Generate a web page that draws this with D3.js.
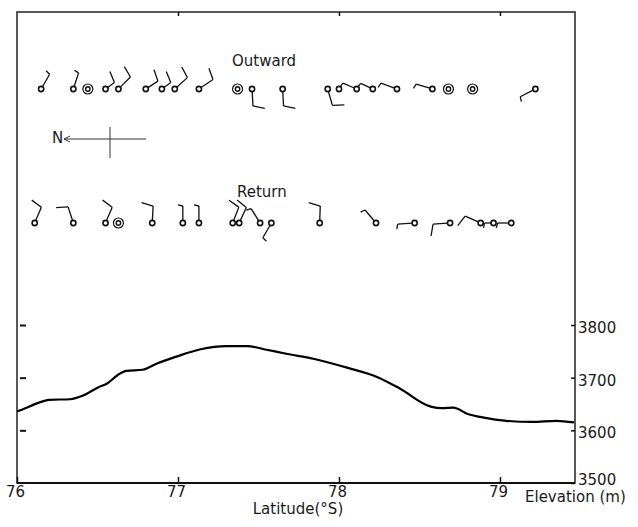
<!DOCTYPE html>
<html>
<head>
<meta charset="utf-8">
<script src="https://cdn.jsdelivr.net/npm/d3@7"></script>
<style>
body { margin: 0; background: #fff; }
svg text { font-family: "DejaVu Sans", sans-serif; font-size: 15px; fill: #1a1a1a; }
</style>
</head>
<body>
<div id="chart"></div>
<script>
// Elevation profile along the traverse (latitude S, metres)
var elevLat = [76.0, 76.02, 76.14, 76.2, 76.33, 76.41, 76.5, 76.56, 76.63, 76.68, 76.78, 76.87, 76.99,
    77.14, 77.3, 77.43, 77.55, 77.68, 77.84, 78.05, 78.24, 78.38, 78.57, 78.64, 78.71, 78.8, 78.9,
    79.04, 79.2, 79.35, 79.46]
var elevM = [3636, 3638, 3653, 3658, 3659, 3666, 3681, 3689, 3706, 3713, 3715, 3727, 3740,
    3754, 3760, 3760, 3753, 3745, 3736, 3719, 3701, 3679, 3645, 3642, 3643, 3631, 3624,
    3618, 3616, 3618, 3615]

// Wind obs on the outward leg: latitude, direction (deg, N = left of page), speed (kt)
// direction null = calm
var outLat = [76.15, 76.35, 76.44, 76.55, 76.63, 76.80, 76.90, 76.98, 77.13, 77.37, 77.46, 77.65,
    77.93, 78.0, 78.11, 78.21, 78.36, 78.58, 78.68, 78.83, 79.22]
var outDir = [120, 108, null, 144, 135, 147, 144, 138, 146, null, 267, 267,
    254, 0, 23, 25, 20, 17, null, null, 333]
var outSpeed = [5, 5, 0, 10, 10, 10, 10, 10, 10, 0, 10, 10,
    10, 0, 5, 5, 5, 5, 0, 0, 5]

// Wind obs on the return leg
var retLat = [76.11, 76.35, 76.55, 76.63, 76.84, 77.03, 77.13, 77.34, 77.38, 77.51, 77.58, 77.88,
    78.23, 78.47, 78.69, 78.88, 78.96, 79.07]
var retDir = [113, 72, 113, null, 93, 90, 90, 111, 115, 58, 300, 92,
    50, 356, 356, 24, 0, 0]
var retSpeed = [10, 10, 10, 0, 10, 5, 5, 10, 10, 5, 5, 10,
    5, 5, 10, 10, 5, 5]

var latTicks = [76, 77, 78, 79]
var elevTicks = [3500, 3600, 3700, 3800]

var width = 638, height = 527
var frame = { left: 17, right: 575, top: 12, bottom: 483 }

var svg = d3.select("#chart").append("svg")
    .attr("width", width)
    .attr("height", height)

var x = d3.scaleLinear().domain([76, 79.466]).range([frame.left, frame.right])
var y = d3.scaleLinear().domain([3500, 3800]).range([frame.bottom, 325])

//Frame
svg.append("rect")
    .attr("x", frame.left).attr("y", frame.top)
    .attr("width", frame.right - frame.left)
    .attr("height", frame.bottom - frame.top)
    .attr("fill", "none").attr("stroke", "#222").attr("stroke-width", 1.5)
svg.append("line")
    .attr("x1", frame.left).attr("x2", frame.right)
    .attr("y1", frame.bottom).attr("y2", frame.bottom)
    .attr("stroke", "#111").attr("stroke-width", 2.2)

//Bottom axis (latitude)
var xAxis = svg.append("g")
    .attr("transform", "translate(0," + frame.bottom + ")")
    .call(d3.axisBottom(x).tickValues(latTicks).tickFormat(d3.format("d"))
        .tickSizeInner(-6).tickSizeOuter(0).tickPadding(3))
xAxis.select(".domain").remove()
xAxis.selectAll("line").attr("stroke", "#111").attr("stroke-width", 1.5)
xAxis.selectAll("text").attr("font-size", 15).attr("font-family", null).attr("dx", -2)

//Top ticks
svg.append("g")
    .attr("transform", "translate(0," + frame.top + ")")
    .call(d3.axisTop(x).tickValues(latTicks.slice(1)).tickFormat("").tickSizeInner(-4).tickSizeOuter(0))
    .call(g => g.select(".domain").remove())
    .selectAll("line").attr("stroke", "#111").attr("stroke-width", 1.5)

//Right axis (elevation)
var yAxis = svg.append("g")
    .attr("transform", "translate(" + frame.right + ",0)")
    .call(d3.axisRight(y).tickValues(elevTicks).tickFormat(d3.format("d"))
        .tickSizeInner(-4).tickSizeOuter(0).tickPadding(3))
yAxis.select(".domain").remove()
yAxis.selectAll("line").attr("stroke", "#111").attr("stroke-width", 1.5)
yAxis.selectAll("text").attr("font-size", 15).attr("font-family", null)
    .attr("dy", (d, i) => i === 0 ? "0.1em" : "0.5em") // lowest label sits up off the axis line

//Left ticks, no labels
svg.append("g")
    .attr("transform", "translate(" + (frame.left + 3) + ",0)")
    .call(d3.axisLeft(y).tickValues(elevTicks.slice(1)).tickFormat("").tickSizeInner(-6).tickSizeOuter(0))
    .call(g => g.select(".domain").remove())
    .selectAll("line").attr("stroke", "#111").attr("stroke-width", 2)

svg.append("text")
    .attr("x", 525).attr("y", 502)
    .text("Elevation (m)")
svg.append("text")
    .attr("x", 298).attr("y", 514)
    .attr("text-anchor", "middle")
    .attr("fill", "#444")
    .text("Latitude(°S)")

//Elevation profile
var line = d3.line()
    .x((d, i) => x(elevLat[i]))
    .y(d => y(d))
    .curve(d3.curveMonotoneX)

svg.append("path")
    .datum(elevM)
    .attr("d", line)
    .attr("fill", "none")
    .attr("stroke", "#000")
    .attr("stroke-width", 2.2)

// Wind barbs: shaft points to where the wind comes from, barbs at its tip
function drawBarbs(lats, dirs, speeds, rowY) {
    var r = 2.6, shaft = 17, full = 12, half = 5
    var rot = -76 * Math.PI / 180
    var g = svg.append("g").attr("stroke", "#111").attr("fill", "none")

    lats.forEach(function (lat, i) {
        var cx = x(lat)
        var st = g.append("g").attr("transform", "translate(" + cx + "," + rowY + ")")

        if (dirs[i] === null) {
            //calm
            st.append("circle").attr("r", 5).attr("stroke-width", 1.2)
            st.append("circle").attr("r", 2.2).attr("stroke-width", 1.4)
            return
        }
        st.append("circle").attr("r", r).attr("stroke-width", 1.6)
        if (!speeds[i]) return

        var b = dirs[i] * Math.PI / 180
        var ux = -Math.cos(b), uy = -Math.sin(b)
        var len = shaft
        // shorten shafts that would run into the next station
        if (Math.abs(ux) > 0.7) {
            var nb = lats[i + (ux < 0 ? -1 : 1)]
            if (nb !== undefined) len = Math.min(shaft, (Math.abs(x(nb) - cx) - 4) / Math.abs(ux))
        }
        st.append("line")
            .attr("x1", ux * r).attr("y1", uy * r)
            .attr("x2", ux * len).attr("y2", uy * len)
            .attr("stroke-width", 1.3)

        var vx = ux * Math.cos(rot) - uy * Math.sin(rot)
        var vy = ux * Math.sin(rot) + uy * Math.cos(rot)
        var nFull = Math.floor(speeds[i] / 10)
        var hasHalf = speeds[i] % 10 >= 5
        for (var k = 0; k < nFull + (hasHalf ? 1 : 0); k++) {
            var p = len - k * 3.5
            var l = k < nFull ? full : half
            st.append("line")
                .attr("x1", ux * p).attr("y1", uy * p)
                .attr("x2", ux * p + vx * l).attr("y2", uy * p + vy * l)
                .attr("stroke-width", 1.3)
        }
    })
}

drawBarbs(outLat, outDir, outSpeed, 89)
drawBarbs(retLat, retDir, retSpeed, 223)

svg.append("text").attr("x", 232).attr("y", 66).text("Outward")
svg.append("text").attr("x", 237).attr("y", 197).text("Return")

//North indicator
var compass = svg.append("g").attr("stroke", "#333").attr("stroke-width", 1)
compass.append("line").attr("x1", 64).attr("x2", 146).attr("y1", 139).attr("y2", 139)
compass.append("line").attr("x1", 110).attr("x2", 110).attr("y1", 127).attr("y2", 158)
compass.append("path").attr("d", "M64,139 l6,-3 M64,139 l6,3")
svg.append("text")
    .attr("x", 52).attr("y", 143)
    .attr("font-size", 10)
    .text("N")
</script>
</body>
</html>
